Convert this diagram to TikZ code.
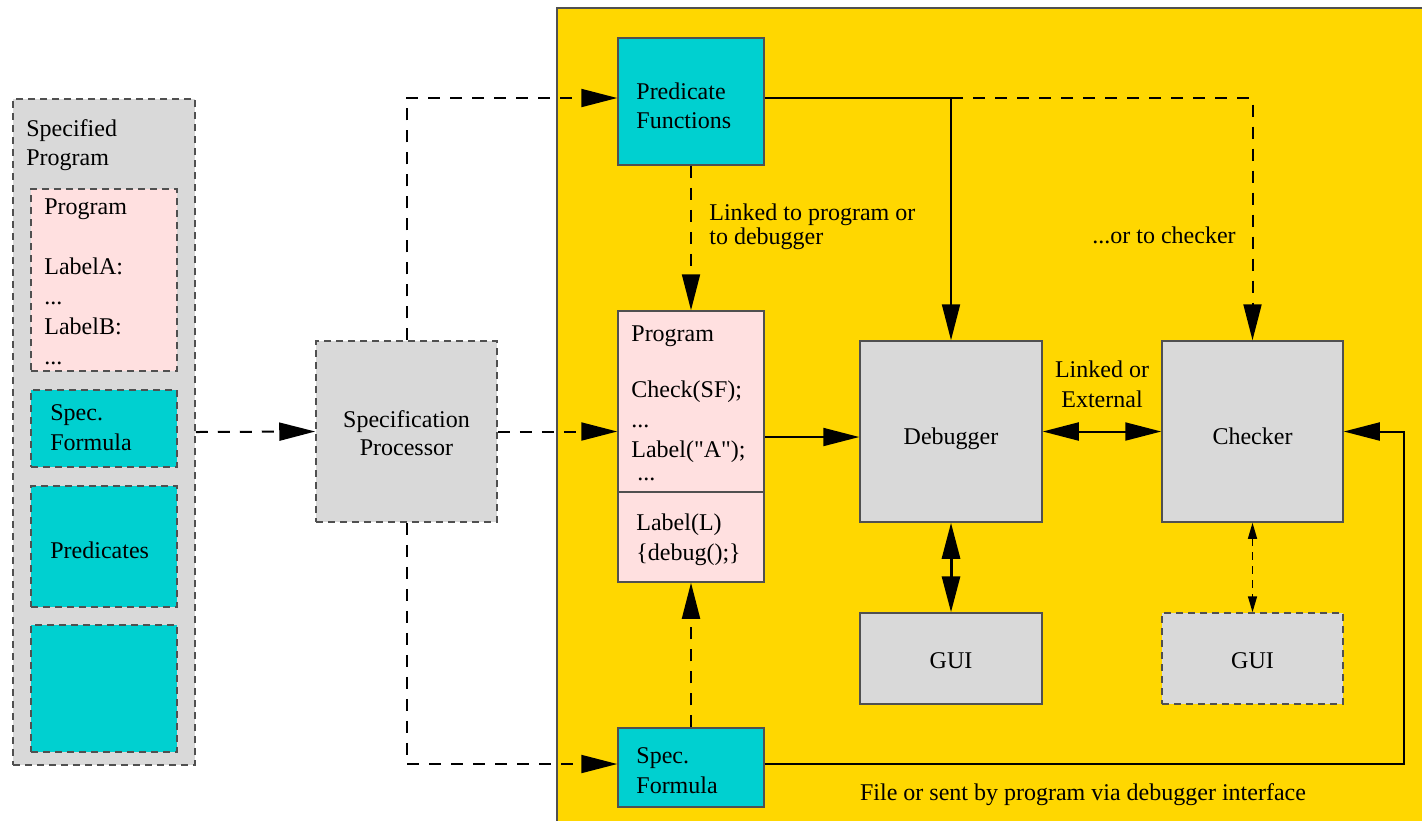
\documentclass[tikz,border=0pt]{standalone}
\usepackage{fontspec}
\setmainfont{Liberation Serif}[Ligatures=TeXOff]
\usetikzlibrary{arrows.meta}
\definecolor{ygold}{RGB}{255,215,0}
\definecolor{cyanb}{RGB}{0,208,208}
\definecolor{pinkb}{RGB}{255,224,224}
\definecolor{grayb}{RGB}{217,217,217}
\definecolor{edgec}{RGB}{80,80,80}
\begin{document}
\begin{tikzpicture}[x=0.5pt,y=-0.5pt,
  box/.style={draw=edgec,line width=0.75pt,inner sep=0pt,font=\fontsize{12}{14.5}\selectfont,align=center},
  dbox/.style={box,dash pattern=on 3.5pt off 2.5pt},
  txt/.style={inner sep=0pt,anchor=base west,align=left,font=\fontsize{12}{14.5}\selectfont},
  txtw/.style={inner sep=0pt,anchor=base west,align=left,font=\fontsize{12}{15}\selectfont},
  txtc/.style={inner sep=0pt,anchor=base,align=center,font=\fontsize{12}{14}\selectfont},
  conn/.style={line width=1pt,-{Triangle[length=18pt,width=9pt]}},
  dconn/.style={conn,dash pattern=on 6pt off 5pt},
  dblconn/.style={line width=1pt,{Triangle[length=18pt,width=9pt]}-{Triangle[length=18pt,width=9pt]}},
  smalldbl/.style={line width=0.75pt,dash pattern=on 4pt off 3pt,{Triangle[length=8pt,width=4.5pt]}-{Triangle[length=8pt,width=4.5pt]}}]
\useasboundingbox (0,0) rectangle (1422,821);
% yellow area
\fill[ygold] (557,8) rectangle (1422,821);
\draw[edgec,line width=0.75pt] (1422,8) -- (557,8) -- (557,821);

% left group
\node[dbox,fill=grayb,minimum width=91pt,minimum height=333pt] (outer) at (104,432) {};
\node[txt] (outert) at (26,165) {Specified\\Program};
\node[dbox,fill=pinkb,minimum width=73pt,minimum height=91pt] (pinkL) at (104,280) {};
\node[txtw] (pinkt) at (44,364) {Program\\[15pt]LabelA:\\...\\LabelB:\\...};
\node[dbox,fill=cyanb,minimum width=73pt,minimum height=38.5pt] (sfL) at (104,428.5) {};
\node[txtw] (sflt) at (50,450) {Spec.\\Formula};
\node[dbox,fill=cyanb,minimum width=73pt,minimum height=60.5pt] (predL) at (104,546.5) {};
\node[txt] (predt) at (50,558) {Predicates};
\node[dbox,fill=cyanb,minimum width=73pt,minimum height=63.5pt] (emptyL) at (104,688.5) {};

% specification processor
\node[dbox,fill=grayb,minimum width=90.5pt,minimum height=90.5pt] (sp) at (406.5,431.5) {};
\node[txtc] (spt) at (406.5,455) {Specification\\Processor};

% right side boxes
\node[box,fill=cyanb,minimum width=73pt,minimum height=63.5pt] (pf) at (691,101.5) {};
\node[txt] (pft) at (636,128) {Predicate\\Functions};

\node[box,fill=pinkb,minimum width=73pt,minimum height=135.5pt] (prog) at (691,446.5) {};
\draw[edgec,line width=0.75pt] (prog.west |- 0,492) -- (prog.east |- 0,492);
\node[txt] (progt1) at (631,341) {Program};
\node[txtw] (progt2) at (631,457) {Check(SF);\\...\\Label("A");};
\node[txt] (progt3) at (637,480) {...};
\node[txtw] (progt4) at (636,560) {Label(L)\\\{debug();\}};

\node[box,fill=grayb,minimum width=91pt,minimum height=90.5pt] (dbg) at (951,431.5) {};
\node[txtc] (dbgt) at (951,444) {Debugger};
\node[box,fill=grayb,minimum width=90.5pt,minimum height=90.5pt] (chk) at (1252.5,431.5) {};
\node[txtc] (chkt) at (1252.5,444) {Checker};
\node[box,fill=grayb,minimum width=91pt,minimum height=45.5pt] (gui1) at (951,658.5) {};
\node[txtc] (gui1t) at (951,668) {GUI};
\node[dbox,fill=grayb,minimum width=90.5pt,minimum height=45.5pt] (gui2) at (1252.5,658.5) {};
\node[txtc] (gui2t) at (1252.5,668) {GUI};

\node[box,fill=cyanb,minimum width=73pt,minimum height=39.5pt] (sfB) at (691,767.5) {};
\node[txtw] (sfbt) at (636,793) {Spec.\\Formula};

% labels
\node[inner sep=0pt,anchor=base west,align=left,font=\fontsize{12}{12}\selectfont] (lab1) at (709,244) {Linked to program or\\to debugger};
\node[txt] (lab2) at (1092,243) {...or to checker};
\node[inner sep=0pt,anchor=base,align=center,font=\fontsize{12}{15}\selectfont] (lab3) at (1102,407) {Linked or\\External};
\node[inner sep=0pt,anchor=base,font=\fontsize{12}{14.5}\selectfont] (lab4) at (1083,800) {File or sent by program via debugger interface};

% connectors
\coordinate (rr) at (1404,0);
\coordinate (pfw) at ([yshift=1.75pt]pf.west);
\coordinate (pfe) at ([yshift=1.75pt]pf.east);
\coordinate (sfw) at ([yshift=1.75pt]sfB.west);
\coordinate (sfe) at ([yshift=1.75pt]sfB.east);
\draw[dconn] (outer.east) -- (sp.west);
\draw[dconn] (sp.east) -- (sp.east -| prog.west);
\draw[dconn] (sp.north) |- (pfw);
\draw[dconn] (sp.south) |- (sfw);
\draw[dconn] (pf.south) -- (prog.north);
\draw[dconn] (sfB.north) -- (prog.south);
\draw[conn] (pfe) -| (dbg.north);
\draw[dconn] (pfe -| dbg.north) -| (chk.north);
\draw[conn] (prog.east |- 0,437) -- (dbg.west |- 0,437);
\draw[dblconn] (dbg.east) -- (chk.west);
\draw[dblconn,line width=1.5pt] (dbg.south) -- (gui1.north);
\draw[smalldbl] (chk.south) -- (gui2.north);
\draw[conn] (sfe) -- (sfe -| rr) |- (chk.east);
\end{tikzpicture}
\end{document}
